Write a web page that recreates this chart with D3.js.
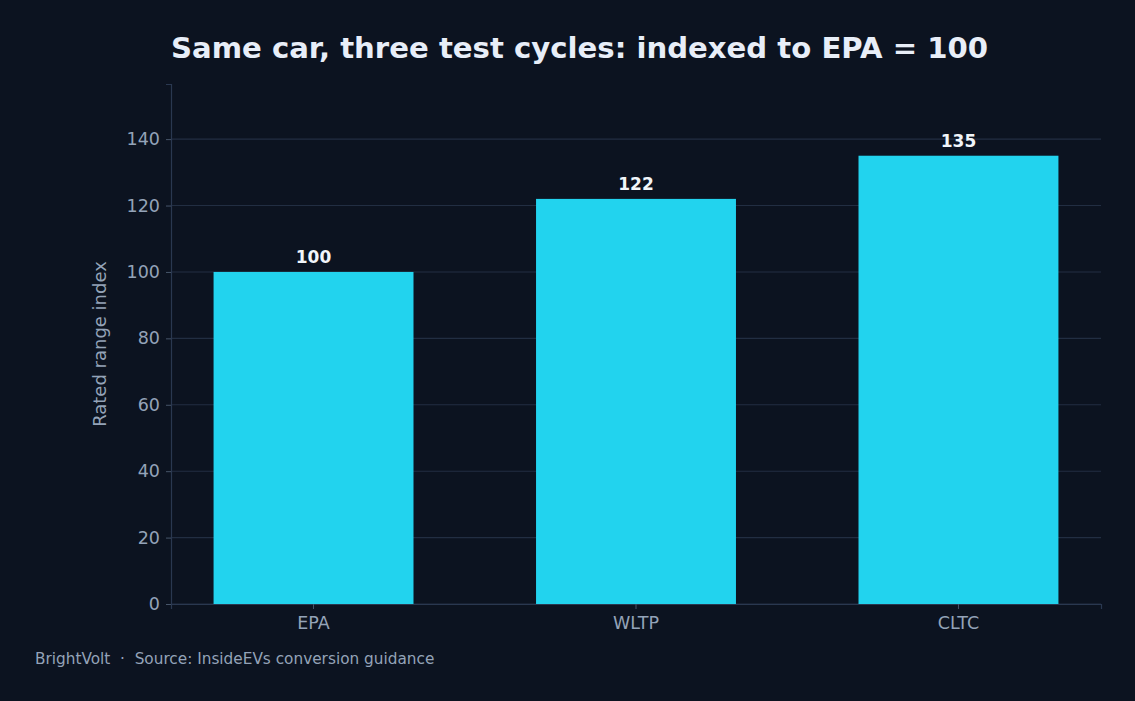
<!DOCTYPE html>
<html>
<head>
<meta charset="utf-8">
<script src="https://cdn.jsdelivr.net/npm/d3@7"></script>
<style>
  body { margin: 0; background: #0c1320; }
  text { font-family: "DejaVu Sans", sans-serif; white-space: pre; }
</style>
</head>
<body>
<div id="chart"></div>
<script>
// data
const cycles = ["EPA", "WLTP", "CLTC"];
const indexValues = [100, 122, 135];
const yTicks = [0, 20, 40, 60, 80, 100, 120, 140];

const width = 1135, height = 701;
const margin = {top: 84, right: 34, bottom: 97, left: 171};

const svg = d3.select("#chart")
  .append("svg")
  .attr("width", width)
  .attr("height", height);

svg.append("rect")
  .attr("width", width)
  .attr("height", height)
  .attr("fill", "#0c1320");

const x = d3.scaleBand()
  .domain(cycles)
  .range([margin.left, width - margin.right])
  .paddingInner(0.38)
  .paddingOuter(0.132);

const y = d3.scaleLinear()
  .domain([0, 156.6])
  .range([height - margin.bottom, margin.top]);

// grid
svg.append("g")
  .selectAll("line")
  .data(yTicks)
  .enter()
  .append("line")
    .attr("x1", margin.left)
    .attr("x2", width - margin.right)
    .attr("y1", d => y(d))
    .attr("y2", d => y(d))
    .attr("stroke", "#222e42")
    .attr("stroke-width", 1.1);

// bars
svg.selectAll("rect.bar")
  .data(indexValues)
  .enter()
  .append("rect")
    .attr("class", "bar")
    .attr("x", (d, i) => x(cycles[i]))
    .attr("y", d => y(d))
    .attr("width", x.bandwidth())
    .attr("height", d => y(0) - y(d))
    .attr("fill", "#22d3ee");

// value labels
svg.selectAll("text.val")
  .data(indexValues)
  .enter()
  .append("text")
    .attr("class", "val")
    .attr("x", (d, i) => x(cycles[i]) + x.bandwidth() / 2)
    .attr("y", d => y(d) - 9)
    .attr("text-anchor", "middle")
    .attr("font-size", "17px")
    .attr("font-weight", "bold")
    .attr("fill", "#f1f5f9")
    .text(d => d);

// axes
const yAxis = svg.append("g")
  .attr("transform", `translate(${margin.left},0)`)
  .call(d3.axisLeft(y).tickValues(yTicks).tickSize(5).tickPadding(6));

const xAxis = svg.append("g")
  .attr("transform", `translate(0,${height - margin.bottom})`)
  .call(d3.axisBottom(x).tickSize(5).tickPadding(8));

[yAxis, xAxis].forEach(g => {
  g.select(".domain").attr("stroke", "#2a3850").attr("stroke-width", 1.2);
  g.selectAll(".tick line").attr("stroke", "#475569");
  g.selectAll(".tick text")
    .attr("fill", "#94a3b8")
    .attr("font-size", "17.5px")
    .attr("font-family", "DejaVu Sans, sans-serif");
});

// y label
svg.append("text")
  .attr("transform", `translate(106,${(margin.top + height - margin.bottom) / 2}) rotate(-90)`)
  .attr("text-anchor", "middle")
  .attr("font-size", "18px")
  .attr("fill", "#94a3b8")
  .text("Rated range index");

// title
svg.append("text")
  .attr("x", margin.left)
  .attr("y", 58)
  .attr("font-size", "29.15px")
  .attr("font-weight", "bold")
  .attr("fill", "#e8eef8")
  .text("Same car, three test cycles: indexed to EPA = 100");

// footer
svg.append("text")
  .attr("x", 35)
  .attr("y", 664)
  .attr("font-size", "15.3px")
  .attr("fill", "#94a3b8")
  .text("BrightVolt  \u00b7  Source: InsideEVs conversion guidance");
</script>
</body>
</html>
